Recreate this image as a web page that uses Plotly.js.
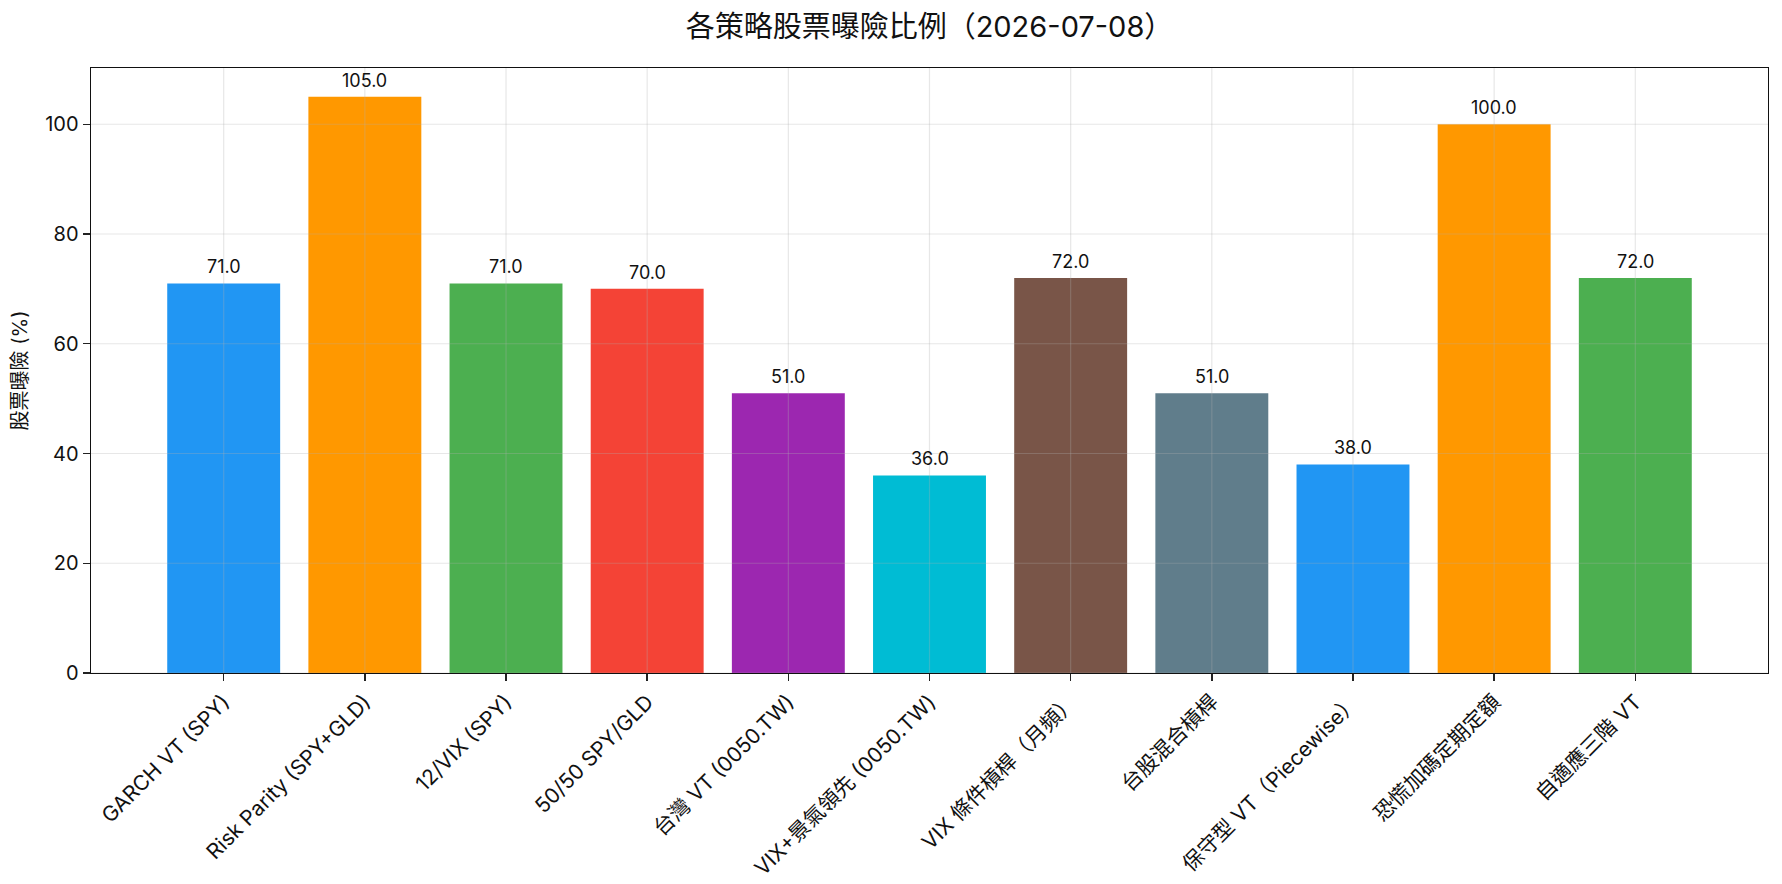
<!DOCTYPE html>
<html>
<head>
<meta charset="utf-8">
<script src="https://cdn.plot.ly/plotly-3.0.1.min.js"></script>
<style>html,body{margin:0;padding:0;background:#fff;}#chart{width:1782px;height:884px;}</style>
</head>
<body>
<div id="chart"></div>
<script>
const strategies = ["GARCH VT (SPY)", "Risk Parity (SPY+GLD)", "12/VIX (SPY)", "50/50 SPY/GLD", "台灣 VT (0050.TW)", "VIX+景氣領先 (0050.TW)", "VIX 條件槓桿（月頻）", "台股混合槓桿", "保守型 VT（Piecewise）", "恐慌加碼定期定額", "自適應三階 VT"];
const exposure = [71, 105, 71, 70, 51, 36, 72, 51, 38, 100, 72];
const barColors = ["#2196F3", "#FF9800", "#4CAF50", "#F44336", "#9C27B0", "#00BCD4", "#795548", "#607D8B", "#2196F3", "#FF9800", "#4CAF50"];
const yTickVals = [0, 20, 40, 60, 80, 100];
const titleText = "各策略股票曝險比例（2026-07-08）";
const yTitle = "股票曝險 (%)";

const FONT = "Inter, 'Noto Sans CJK TC', 'Noto Sans', sans-serif";
const gridColor = "rgba(176,176,176,0.3)";

const shapes = [];
strategies.forEach(s => shapes.push({type: "line", layer: "above", xref: "x", yref: "paper", x0: s, x1: s, y0: 0, y1: 1, line: {color: gridColor, width: 1.2}}));
yTickVals.forEach(v => shapes.push({type: "line", layer: "above", xref: "paper", yref: "y", x0: 0, x1: 1, y0: v, y1: v, line: {color: gridColor, width: 1.2}}));

const annotations = strategies.map((s, i) => ({
  x: s, y: exposure[i], xref: "x", yref: "y", text: exposure[i].toFixed(1),
  showarrow: false, yanchor: "bottom", yshift: 4,
  font: {family: FONT, size: 18, color: "#111"}
}));

const trace = {
  type: "bar", x: strategies, y: exposure,
  marker: {color: barColors, line: {width: 0}},
  hoverinfo: "x+y"
};

const layout = {
  width: 1782, height: 884,
  paper_bgcolor: "#fff", plot_bgcolor: "#fff",
  margin: {l: 91, r: 14, t: 68, b: 211, pad: 0},
  title: {text: titleText, font: {family: FONT, size: 29, color: "#111"}, x: 0.5, xref: "paper", y: 0.97, yanchor: "middle"},
  bargap: 0.2,
  showlegend: false,
  xaxis: {
    type: "category", range: [-0.94, 10.94], tickangle: -45,
    showgrid: false, zeroline: false,
    showline: true, linecolor: "#111", linewidth: 1.4, mirror: true,
    ticks: "outside", ticklen: 7, tickwidth: 1.4, tickcolor: "#222",
    tickfont: {family: FONT, size: 21, color: "#111"}
  },
  yaxis: {
    range: [0, 110.25], tickvals: yTickVals,
    showgrid: false, zeroline: false,
    showline: true, linecolor: "#111", linewidth: 1.4, mirror: true,
    ticks: "outside", ticklen: 7, tickwidth: 1.4, tickcolor: "#222",
    tickfont: {family: FONT, size: 20, color: "#111"},
    title: {text: yTitle, font: {family: FONT, size: 20, color: "#111"}, standoff: 12}
  },
  shapes: shapes,
  annotations: annotations
};

Plotly.newPlot("chart", [trace], layout, {displayModeBar: false, staticPlot: true});
</script>
</body>
</html>
